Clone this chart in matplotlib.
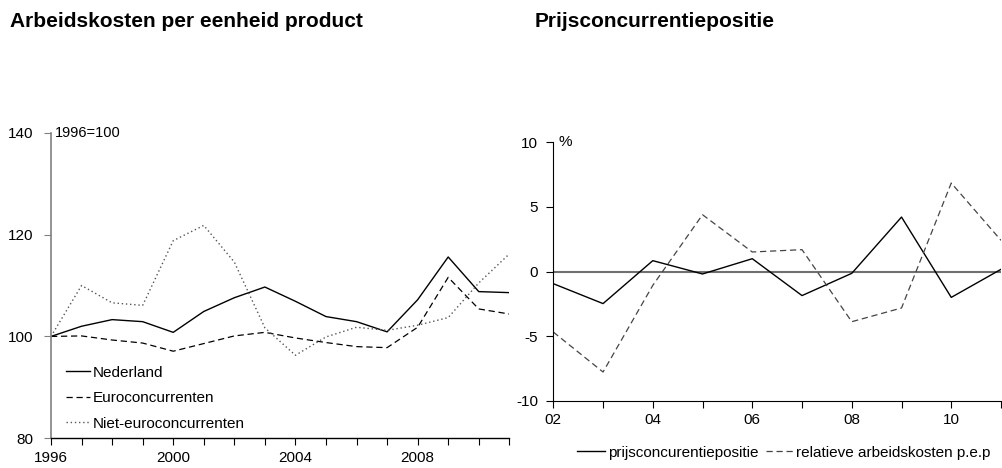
import matplotlib
matplotlib.use('Agg')
import matplotlib.pyplot as plt

plt.rcParams['font.family'] = ['Liberation Sans', 'DejaVu Sans']
plt.rcParams['axes.unicode_minus'] = False

# left chart: index 1996=100
years_l = list(range(1996, 2012))
nederland = [100, 102.0, 103.3, 102.9, 100.8, 104.9, 107.6, 109.7, 106.9, 103.9, 102.9, 100.9, 107.2, 115.6, 108.8, 108.6]
euro = [100, 100.1, 99.3, 98.7, 97.1, 98.6, 100.1, 100.8, 99.7, 98.8, 98.0, 97.8, 101.8, 111.6, 105.4, 104.4]
niet_euro = [100, 110.0, 106.6, 106.1, 118.8, 121.8, 114.6, 101.7, 96.3, 99.9, 101.8, 101.2, 102.2, 103.7, 110.5, 116.2]
labels_l = ['Nederland', 'Euroconcurrenten', 'Niet-euroconcurrenten']

# right chart: % change
years_r = list(range(2002, 2012))
prijs = [-0.93, -2.47, 0.85, -0.18, 1.0, -1.85, -0.13, 4.22, -1.99, 0.18]
rel_kosten = [-4.67, -7.76, -1.06, 4.4, 1.52, 1.70, -3.87, -2.81, 6.85, 2.42]
labels_r = ['prijsconcurentiepositie', 'relatieve arbeidskosten p.e.p']

W, H = 1002, 468
fig = plt.figure(figsize=(W / 100, H / 100), dpi=100)

fs = 11

# ---- left
ax1 = fig.add_axes([51 / W, 1 - 438.3 / H, 458.3 / W, (438.3 - 132.7) / H])
ax1.plot(years_l, nederland, color='black', lw=1.0, label=labels_l[0])
ax1.plot(years_l, euro, color='black', lw=0.9, dashes=(5, 3), label=labels_l[1])
ax1.plot(years_l, niet_euro, color='#555555', lw=1.0, dashes=(1, 2), label=labels_l[2])
ax1.set_xlim(1996, 2011)
ax1.set_ylim(80, 140)
ax1.set_yticks([80, 100, 120, 140])
ax1.set_xticks(years_l)
ax1.set_xticklabels([str(y) if (y - 1996) % 4 == 0 else '' for y in years_l])
for s in ['top', 'right']:
    ax1.spines[s].set_visible(False)
ax1.spines['left'].set_color('#808080')
ax1.spines['left'].set_linewidth(1.2)
ax1.spines['bottom'].set_linewidth(1.0)
ax1.tick_params(axis='y', length=5, pad=8, labelsize=fs, color='#808080')
ax1.tick_params(axis='x', length=5, pad=4, labelsize=fs)
ax1.text(0.008, 1.0, '1996=100', transform=ax1.transAxes, fontsize=fs - 0.5, va='center', ha='left')
leg1 = ax1.legend(loc='lower left', bbox_to_anchor=(0.012, -0.005), frameon=False, fontsize=fs,
                  handlelength=1.6, handletextpad=0.15, labelspacing=0.75, borderaxespad=0.2)

# ---- right
ax2 = fig.add_axes([553.3 / W, 1 - 401 / H, (1001 - 553.3) / W, (401 - 142.3) / H])
ax2.axhline(0, color='#707070', lw=1.5)
ax2.plot(years_r, prijs, color='black', lw=1.0, label=labels_r[0])
ax2.plot(years_r, rel_kosten, color='#444444', lw=0.9, dashes=(5, 3), label=labels_r[1])
ax2.set_xlim(2002, 2011)
ax2.set_ylim(-10, 10)
ax2.set_yticks([-10, -5, 0, 5, 10])
ax2.set_xticks(years_r)
ax2.set_xticklabels(['%02d' % (y % 100) if y % 2 == 0 else '' for y in years_r])
for s in ['top', 'right']:
    ax2.spines[s].set_visible(False)
ax2.tick_params(axis='y', length=5, pad=6, labelsize=fs)
ax2.tick_params(axis='x', length=5, pad=4, labelsize=fs)
ax2.text(0.012, 1.0, '%', transform=ax2.transAxes, fontsize=fs, va='center', ha='left')
ax2.legend(loc='center', bbox_to_anchor=(784 / W, 1 - 452.7 / H), bbox_transform=fig.transFigure,
           ncol=2, frameon=False, fontsize=fs, handlelength=1.8, handletextpad=0.2,
           columnspacing=0.5, borderaxespad=0)

# titles
fig.text(10 / W, 1 - 27.3 / H, 'Arbeidskosten per eenheid product', fontsize=15, fontweight='bold',
         ha='left', va='baseline')
fig.text(535 / W, 1 - 27.3 / H, 'Prijsconcurrentiepositie', fontsize=15, fontweight='bold',
         ha='left', va='baseline')

fig.savefig('out.png', dpi=100)
